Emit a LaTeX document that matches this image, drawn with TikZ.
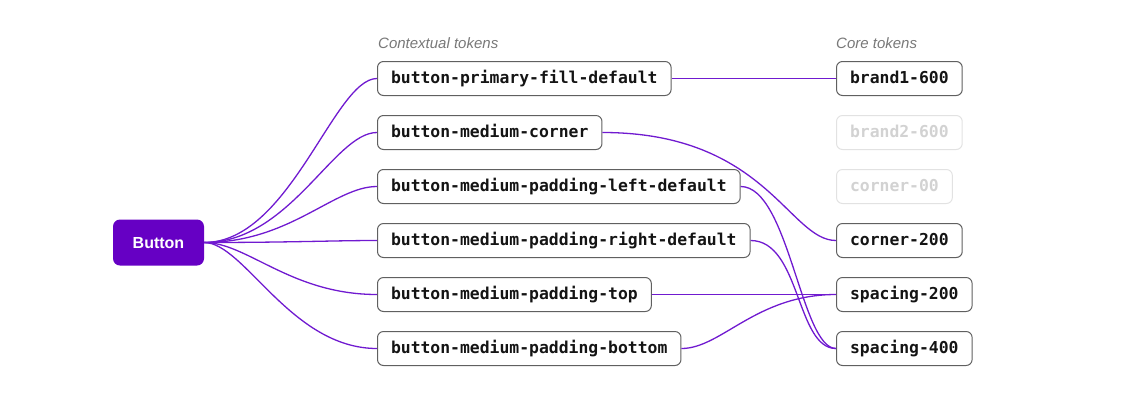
\documentclass[tikz,border=0pt]{standalone}
\usepackage{fontspec}
\setmainfont{Liberation Sans}
\newfontfamily\tokenmono{DejaVu Sans Mono}
\usetikzlibrary{positioning}
\definecolor{btnpurple}{RGB}{102,0,196}
\definecolor{linkpurple}{RGB}{112,26,208}
\definecolor{boxedge}{RGB}{96,96,96}
\definecolor{fadeedge}{RGB}{226,226,226}
\definecolor{fadetext}{RGB}{210,210,210}
\definecolor{labelgray}{RGB}{120,120,120}

\begin{document}
\begin{tikzpicture}[x=1pt,y=-1pt,
token box/.style={draw=boxedge,line width=1pt,rounded corners=6pt,minimum height=34pt,inner xsep=13.5pt,inner ysep=0pt,text height=12.4pt,text depth=3pt,anchor=west,text=black!92,font=\tokenmono\bfseries\fontsize{16.4}{18}\selectfont},
faded box/.style={token box,draw=fadeedge,text=fadetext},
root box/.style={fill=btnpurple,rounded corners=7pt,minimum width=91pt,minimum height=46pt,inner sep=0pt,text height=11.6pt,text depth=0pt,text=white,font=\bfseries\fontsize{16}{18}\selectfont},
link/.style={draw=linkpurple,line width=1.3pt},
group label/.style={anchor=base west,inner sep=0pt,text=labelgray,font=\itshape\fontsize{15}{18}\selectfont}]
\useasboundingbox (0,0) rectangle (1124,416);
\node[group label] (ctxlabel) at (378,48.3) {Contextual tokens};
\node[group label] (corelabel) at (836,48.3) {Core tokens};
\node[root box] (btn) at (158.5,242.5) {Button};
\node[token box] (ctx1) at (377,78.5) {button-primary-fill-default};
\node[token box] (ctx2) at (377,132.5) {button-medium-corner};
\node[token box] (ctx3) at (377,186.5) {button-medium-padding-left-default};
\node[token box] (ctx4) at (377,240.5) {button-medium-padding-right-default};
\node[token box] (ctx5) at (377,294.5) {button-medium-padding-top};
\node[token box] (ctx6) at (377,348.5) {button-medium-padding-bottom};
\node[token box] (core1) at (836,78.5) {brand1-600};
\node[faded box] (core2) at (836,132.5) {brand2-600};
\node[faded box] (core3) at (836,186.5) {corner-00};
\node[token box] (core4) at (836,240.5) {corner-200};
\node[token box] (core5) at (836,294.5) {spacing-200};
\node[token box] (core6) at (836,348.5) {spacing-400};
\draw[link] (btn.east) .. controls +(86,0) and +(-43,0) .. (ctx1.west);
\draw[link] (btn.east) .. controls +(86,0) and +(-43,0) .. (ctx2.west);
\draw[link] (btn.east) .. controls +(86,0) and +(-43,0) .. (ctx3.west);
\draw[link] (btn.east) .. controls +(86,0) and +(-43,0) .. (ctx4.west);
\draw[link] (btn.east) .. controls +(43,0) and +(-86,0) .. (ctx5.west);
\draw[link] (btn.east) .. controls +(40,0) and +(-86,0) .. (ctx6.west);
\draw[link] (ctx1.east) -- (core1.west);
\draw[link] (ctx2.east) .. controls +(163,0) and +(-47,0) .. (core4.west);
\draw[link] (ctx3.east) .. controls +(48,0) and +(-35,0) .. (core6.west);
\draw[link] (ctx4.east) .. controls +(50,0) and +(-40,0) .. (core6.west);
\draw[link] (ctx5.east) -- (core5.west);
\draw[link] (ctx6.east) .. controls +(40,0) and +(-80,0) .. (core5.west);
\end{tikzpicture}
\end{document}
